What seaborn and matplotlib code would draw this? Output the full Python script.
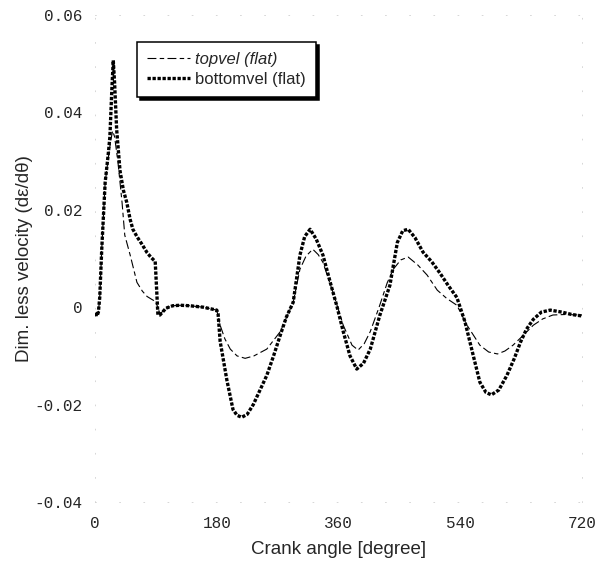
import matplotlib
matplotlib.use("Agg")
import matplotlib.pyplot as plt
import seaborn as sns
import numpy as np

# ---- data ----
top_angle = [0, 3, 5, 7, 10, 15, 20, 23, 26, 29, 34, 40, 44, 52, 62, 70, 77, 84, 89, 93, 96,
             105, 115, 126, 140, 160, 180, 185, 192, 200, 210, 222, 235, 254, 274, 285, 293,
             303, 312, 322, 330, 337, 352, 367, 380, 389, 398, 407, 420, 432, 441, 452, 463,
             477, 491, 506, 520, 535, 550, 569, 582, 595, 606, 618, 633, 648, 662, 677, 695,
             717, 720]
top_vel = [-0.0012, -0.0018, -0.001, 0.002, 0.012, 0.0256, 0.031, 0.034, 0.0362, 0.035, 0.0297,
           0.0215, 0.0148, 0.0107, 0.0051, 0.0033, 0.0022, 0.0016, 0.0012, 0.0, -0.0014,
           -0.0002, 0.0003, 0.0004, 0.0003, 0.0, -0.0006, -0.0037, -0.0065, -0.0086, -0.0100,
           -0.0105, -0.0100, -0.0086, -0.005, -0.0015, 0.001, 0.0078, 0.0105, 0.0119, 0.0108,
           0.0092, 0.003, -0.0037, -0.0078, -0.0088, -0.0075, -0.005, 0.0, 0.005, 0.0078,
           0.0097, 0.0103, 0.0087, 0.0066, 0.0035, 0.0018, 0.0004, -0.0037, -0.0078, -0.0092,
           -0.0096, -0.0090, -0.0078, -0.0058, -0.0037, -0.0024, -0.0016, -0.0015, -0.0016,
           -0.0016]

bottom_angle = [0, 3, 5, 7, 10, 15, 20, 22, 25, 27, 29, 32, 37, 42, 47, 52, 56, 62, 70, 77, 83,
                89, 91, 93, 96, 105, 115, 126, 140, 160, 180, 182, 185, 190, 195, 204, 210, 217,
                225, 234, 244, 254, 264, 274, 283, 293, 303, 310, 318, 327, 337, 348, 358, 367,
                377, 387, 397, 407, 421, 436, 447, 455, 463, 473, 485, 498, 510, 522, 535, 547,
                559, 569, 578, 586, 597, 609, 620, 629, 638, 648, 660, 673, 690, 705, 720]
bottom_vel = [-0.0012, -0.0018, -0.001, 0.002, 0.012, 0.0256, 0.032, 0.035, 0.045, 0.0507,
              0.046, 0.0365, 0.028, 0.024, 0.0215, 0.018, 0.016, 0.0145, 0.0128, 0.0112, 0.0102,
              0.0094, 0.004, -0.0016, -0.0016, -0.0002, 0.0003, 0.0004, 0.0003, 0.0, -0.0006,
              -0.0014, -0.007, -0.011, -0.015, -0.021, -0.0222, -0.0226, -0.0220, -0.020,
              -0.017, -0.014, -0.010, -0.0057, -0.002, 0.001, 0.0107, 0.0145, 0.016, 0.0140,
              0.0107, 0.005, 0.0, -0.005, -0.010, -0.0127, -0.0115, -0.0086, -0.0017, 0.0045,
              0.0133, 0.0157, 0.016, 0.0143, 0.0113, 0.0093, 0.0070, 0.0045, 0.0020, -0.003,
              -0.0098, -0.0154, -0.0175, -0.018, -0.017, -0.014, -0.0105, -0.0072, -0.0045,
              -0.0025, -0.001, -0.0006, -0.001, -0.0015, -0.0018]

x_ticks = [0, 180, 360, 540, 720]
x_tick_labels = ["0", "180", "360", "540", "720"]
y_ticks = [-0.04, -0.02, 0.0, 0.02, 0.04, 0.06]
y_tick_labels = ["-0.04", "-0.02", "0", "0.02", "0.04", "0.06"]

series_names = ["topvel (flat)", "bottomvel (flat)"]

# ---- plotting ----
sns.set_theme(style="white")
plt.rcParams['font.family'] = ['Liberation Sans', 'DejaVu Sans']

fig = plt.figure(figsize=(5.97, 5.65), dpi=100)
ax = fig.add_axes([95 / 597, 1 - 502 / 565, 487 / 597, 487 / 565])

sns.lineplot(x=top_angle, y=top_vel, ax=ax, color="black", lw=0.8,
             linestyle=(0, (8, 3, 4, 3)), estimator=None, label=series_names[0])
sns.lineplot(x=bottom_angle, y=bottom_vel, ax=ax, color="black", lw=2.4,
             linestyle=(0, (1.0, 0.5)), estimator=None, label=series_names[1])

ax.set_xlim(0, 720)
ax.set_ylim(-0.04, 0.06)
mono = ['Liberation Mono', 'DejaVu Sans Mono']
ax.set_xticks(x_ticks)
ax.set_xticklabels(x_tick_labels, family=mono, fontsize=11.5)
ax.set_yticks(y_ticks)
ax.set_yticklabels(y_tick_labels, family=mono, fontsize=11.5)
ax.tick_params(axis='both', length=0)
ax.tick_params(axis='x', pad=10)
ax.tick_params(axis='y', pad=9)

for side, sp in ax.spines.items():
    sp.set_visible(True)
    sp.set_color("#d0d0d0")
    sp.set_linewidth(0.6)
    sp.set_linestyle((0, (1, 28)))

ax.set_xlabel("Crank angle [degree]", fontsize=13.5, labelpad=7)
ax.set_ylabel("Dim. less velocity (dε/dθ)", fontsize=13.5, labelpad=1)

leg = ax.legend(loc="upper left", bbox_to_anchor=(137 / 597, 1 - 42 / 565),
                bbox_transform=fig.transFigure, frameon=True, fancybox=False,
                fontsize=12, handlelength=2.6, handletextpad=0.3,
                borderpad=0.6, labelspacing=0.3, borderaxespad=0,
                shadow={'color': 'black', 'alpha': 1.0})
frame = leg.get_frame()
frame.set_edgecolor("black")
frame.set_linewidth(1.1)
frame.set_alpha(1)
texts = leg.get_texts()
texts[0].set_fontstyle("italic")

fig.savefig("out.png", dpi=100)
